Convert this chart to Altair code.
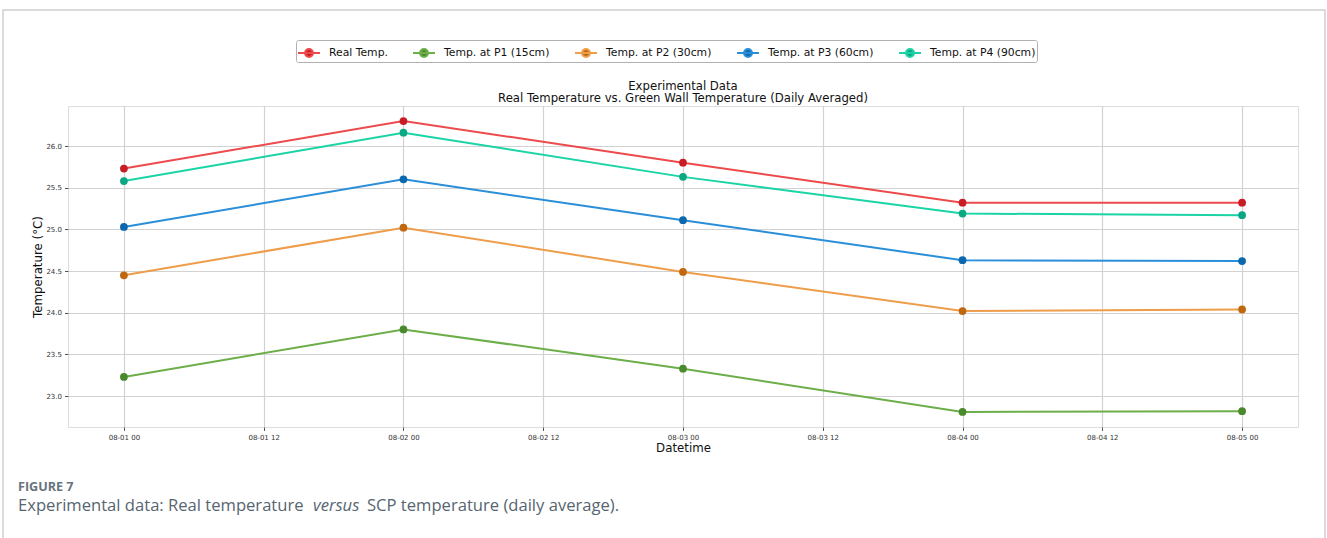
import altair as alt
import pandas as pd

# ---- data ----
dates = ["2023-08-01", "2023-08-02", "2023-08-03", "2023-08-04", "2023-08-05"]
series_names = ["Real Temp.", "Temp. at P1 (15cm)", "Temp. at P2 (30cm)",
                "Temp. at P3 (60cm)", "Temp. at P4 (90cm)"]
real_temp = [25.73, 26.30, 25.80, 25.32, 25.32]
p1_temp = [23.23, 23.80, 23.33, 22.81, 22.82]
p2_temp = [24.45, 25.02, 24.49, 24.02, 24.04]
p3_temp = [25.03, 25.60, 25.11, 24.63, 24.62]
p4_temp = [25.58, 26.16, 25.63, 25.19, 25.17]
line_colors = ["#ec4a4c", "#6cae4a", "#ee9d4a", "#2a8fd8", "#1ad4a6"]
marker_colors = ["#c81d25", "#4a8a2c", "#c0680f", "#0b68ae", "#0ba884"]
y_ticks = [23.0, 23.5, 24.0, 24.5, 25.0, 25.5, 26.0]
title_text = "Experimental Data"
subtitle_text = "Real Temperature vs. Green Wall Temperature (Daily Averaged)"
fig_text = "FIGURE 7"
caption_parts = ["Experimental data: Real temperature", "versus", "SCP temperature (daily average)."]

rows = []
for name, vals in zip(series_names, [real_temp, p1_temp, p2_temp, p3_temp, p4_temp]):
    for d, v in zip(dates, vals):
        rows.append({"Datetime": d, "Temperature": v, "Series": name})
df = pd.DataFrame(rows)

x_ticks = []
for day in range(1, 6):
    for h in (0, 12):
        if day == 5 and h == 12:
            continue
        x_ticks.append(alt.DateTime(year=2023, month=8, date=day, hours=h, utc=True))

x_scale = alt.Scale(type="utc", domain=[
    alt.DateTime(year=2023, month=7, date=31, hours=19, minutes=12, utc=True),
    alt.DateTime(year=2023, month=8, date=5, hours=4, minutes=48, utc=True)])
y_scale = alt.Scale(domain=[22.63, 26.48], nice=False, zero=False)

x_enc = alt.X("Datetime:T", scale=x_scale, title="Datetime",
              axis=alt.Axis(values=x_ticks, format="%m-%d %H", labelFontSize=7,
                            labelColor="#333", tickSize=3.5, tickColor="#555",
                            titleFontSize=11.8, titleFontWeight="normal", titleColor="#111",
                            titlePadding=2, labelPadding=3, domain=False,
                            gridColor="#d2d2d2", gridWidth=1.2, labelFont="DejaVu Sans",
                            titleFont="DejaVu Sans"))
y_enc = alt.Y("Temperature:Q", scale=y_scale, title="Temperature (°C)",
              axis=alt.Axis(values=y_ticks, format=".1f", labelFontSize=7,
                            labelColor="#333", tickSize=3.5, tickColor="#555",
                            titleFontSize=11.8, titleFontWeight="normal", titleColor="#111",
                            titlePadding=2, labelPadding=3, domain=False,
                            gridColor="#d2d2d2", gridWidth=1.2, labelFont="DejaVu Sans",
                            titleFont="DejaVu Sans"))

legend_path = ("M-1,0H1M-0.36,0A0.36,0.36,0,1,0,0.36,0A0.36,0.36,0,1,0,-0.36,0Z")
legend = alt.Legend(title=None, orient="none", legendX=228, legendY=-66,
                    direction="horizontal", symbolType=legend_path, symbolSize=484,
                    symbolStrokeWidth=2, labelFontSize=10.8, labelFont="DejaVu Sans",
                    labelColor="#111", columnPadding=21, labelOffset=8,
                    strokeColor="#b0b0b0", fillColor="white", padding=1,
                    cornerRadius=2)

lines = alt.Chart(df).mark_line(strokeWidth=2).encode(
    x=x_enc, y=y_enc,
    stroke=alt.Stroke("Series:N", scale=alt.Scale(domain=series_names, range=line_colors),
                      sort=series_names, legend=legend))
points = alt.Chart(df).mark_point(filled=True, size=60, opacity=1, shape="circle").encode(
    x=x_enc, y=y_enc,
    fill=alt.Fill("Series:N", scale=alt.Scale(domain=series_names, range=marker_colors),
                  sort=series_names, legend=legend))

one = pd.DataFrame({"k": [0]})
border = alt.Chart(one).mark_rect(filled=False, stroke="#cfcfcf", strokeWidth=1.5).encode(
    x=alt.value(-65), x2=alt.value(1257), y=alt.value(-96), y2=alt.value(470))

title_mark = alt.Chart(one).mark_text(align="center", baseline="alphabetic", fontSize=11.7,
                                      font="DejaVu Sans", color="#111").encode(
    x=alt.value(615), y=alt.value(-16), text=alt.value(title_text))
subtitle_mark = alt.Chart(one).mark_text(align="center", baseline="alphabetic", fontSize=11.7,
                                         font="DejaVu Sans", color="#111").encode(
    x=alt.value(615), y=alt.value(-4), text=alt.value(subtitle_text))

fig_label = alt.Chart(one).mark_text(align="left", baseline="alphabetic", fontSize=12.6,
                                     font="Open Sans", fontWeight="bold", color="#66737c").encode(
    x=alt.value(-50), y=alt.value(385), text=alt.value(fig_text))
cap1 = alt.Chart(one).mark_text(align="left", baseline="alphabetic", fontSize=16.6,
                                font="Open Sans", color="#56656f").encode(
    x=alt.value(-50), y=alt.value(405), text=alt.value(caption_parts[0]))
cap2 = alt.Chart(one).mark_text(align="left", baseline="alphabetic", fontSize=16.6,
                                font="Open Sans", fontStyle="italic", color="#56656f").encode(
    x=alt.value(245), y=alt.value(405), text=alt.value(caption_parts[1]))
cap3 = alt.Chart(one).mark_text(align="left", baseline="alphabetic", fontSize=16.6,
                                font="Open Sans", color="#56656f").encode(
    x=alt.value(299), y=alt.value(405), text=alt.value(caption_parts[2]))

chart = alt.layer(border, lines, points, title_mark, subtitle_mark,
                  fig_label, cap1, cap2, cap3).properties(
    width=1230, height=321,
    autosize=alt.AutoSizeParams(type="none"),
    padding={"left": 68, "top": 106, "right": 29, "bottom": 111},
).configure_view(stroke="#555", strokeWidth=1).configure(background="white")

chart.save("out.html", embed_options={"renderer": "svg", "actions": False})
